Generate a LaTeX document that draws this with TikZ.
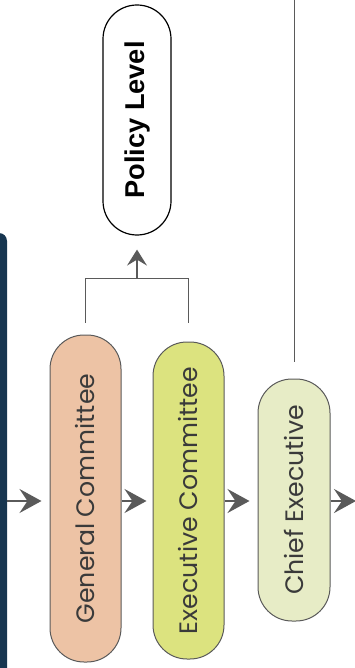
\documentclass[tikz,border=0pt]{standalone}
\usepackage{fontspec}
\setmainfont{Poppins}
\newfontfamily\policyfont{Liberation Sans}
\usetikzlibrary{arrows.meta,positioning,calc}

\definecolor{navybar}{HTML}{173650}
\definecolor{genfill}{HTML}{EDC3A5}
\definecolor{execfill}{HTML}{DCE37F}
\definecolor{chieffill}{HTML}{E7ECC6}
\definecolor{linegray}{HTML}{5A5A5A}
\definecolor{textgray}{HTML}{3A3A3A}

\tikzset{
  stage/.style={draw=linegray, line width=0.5pt, rounded corners=17pt, inner sep=0pt,
    text=textgray, font=\fontsize{12.6}{14}\selectfont},
  flow/.style={draw=linegray, line width=1pt, -{Stealth[length=11pt,width=12pt,inset=4pt]}},
  link/.style={draw=linegray, line width=0.6pt},
}

\begin{document}
\begin{tikzpicture}[x=0.5pt, y=-0.5pt]
\useasboundingbox (0,0) rectangle (354,668);

% left bar
\fill[navybar, rounded corners=4pt] (-20,233) rectangle (7,700);

% the three stages
\node[stage, fill=genfill, minimum width=35.5pt, minimum height=163.5pt] (general) at (85.5,498.5) {\rotatebox{90}{General Committee}};
\node[stage, fill=execfill, minimum width=35.5pt, minimum height=158.5pt] (exec) at (188.5,500.5) {\rotatebox{90}{Executive Committee}};
\node[stage, fill=chieffill, minimum width=36pt, minimum height=121pt] (chief) at (294,500) {\rotatebox{90}{Chief Executive}};

% policy level
\node[stage, draw=black, fill=white, text=black, line width=0.6pt, minimum width=34pt, minimum height=115pt,
  font=\policyfont\bfseries\fontsize{13.6}{15}\selectfont] (policy) at (137,120) {\rotatebox{90}{Policy Level}};

% flow arrows
\coordinate (inleft) at (7,501);
\coordinate (outright) at (356,501);
\draw[flow, shorten >=4pt] (inleft) -- (inleft -| general.west);
\draw[flow, shorten >=3pt] (general.east |- inleft) -- (exec.west |- inleft);
\draw[flow, shorten >=4pt] (exec.east |- inleft) -- (chief.west |- inleft);
\draw[flow] (chief.east |- inleft) -- (outright);

% bracket up to policy level
\coordinate (gtop) at ([yshift=6pt]general.north);
\path (gtop) ++(0,-44) coordinate (bl);
\draw[link] (gtop) -- (bl) -| (gtop -| exec.north);
\draw[flow, line width=0.8pt, shorten >=7pt, -{Stealth[length=8pt,width=10pt,inset=3pt]}]
  ($(bl)!0.5!(bl -| exec.north)$) -- (policy.south);

% guide line
\draw[link, line width=0.5pt] ([yshift=8.5pt]chief.north) -- (chief.north |- 0,0);

\end{tikzpicture}
\end{document}
